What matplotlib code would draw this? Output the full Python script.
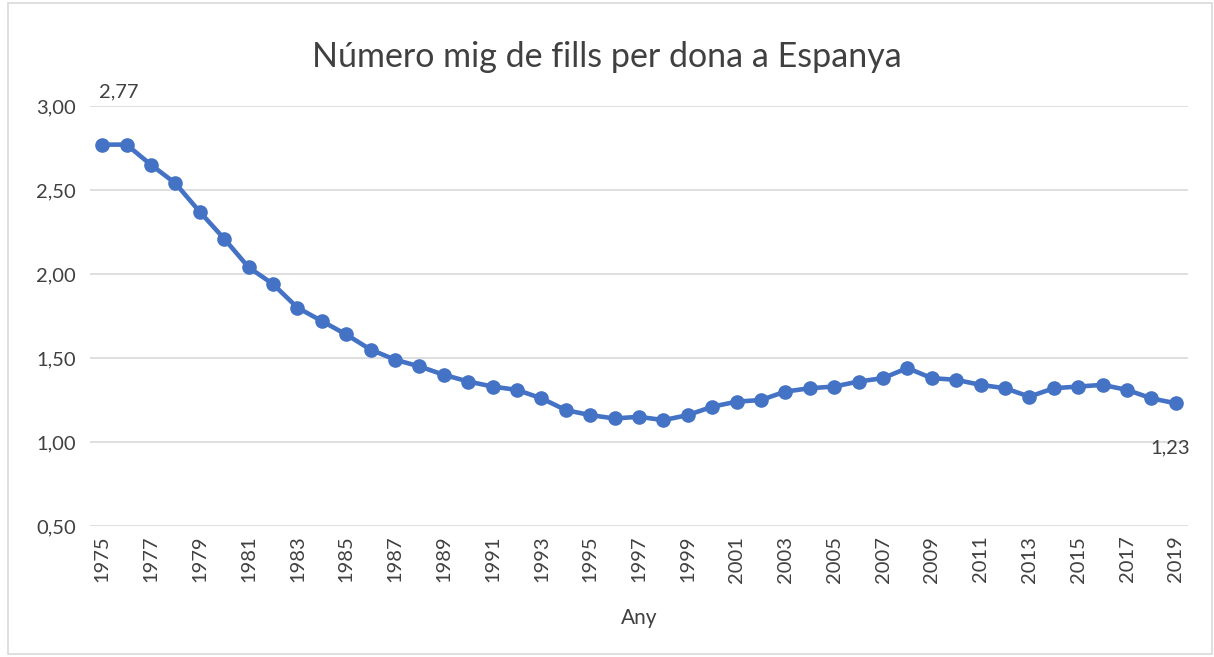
import matplotlib.pyplot as plt
from matplotlib.patches import Rectangle
from matplotlib.ticker import FuncFormatter, MultipleLocator

anys = list(range(1975, 2020))
fills = [2.77, 2.77, 2.65, 2.54, 2.37, 2.21, 2.04, 1.94, 1.80, 1.72,
         1.64, 1.55, 1.49, 1.45, 1.40, 1.36, 1.33, 1.31, 1.26, 1.19,
         1.16, 1.14, 1.15, 1.13, 1.16, 1.21, 1.24, 1.25, 1.30, 1.32,
         1.33, 1.36, 1.38, 1.44, 1.38, 1.37, 1.34, 1.32, 1.27, 1.32,
         1.33, 1.34, 1.31, 1.26, 1.23]

plt.rcParams['font.family'] = ['Lato', 'DejaVu Sans']
text_color = '#404040'
blue = '#4472C4'

fig = plt.figure(figsize=(12.14, 6.57), dpi=100)
ax = fig.add_axes([0.0741, 0.1994, 0.9045, 0.6393])

ax.plot(anys, fills, color=blue, linewidth=3.3, marker='o', markersize=9.5)

ax.set_xlim(1974.5, 2019.5)
ax.set_ylim(0.5, 3.0)
ax.yaxis.set_major_locator(MultipleLocator(0.5))
ax.yaxis.set_major_formatter(FuncFormatter(lambda v, p: f'{v:.2f}'.replace('.', ',')))
ax.set_xticks(anys[::2])
ax.set_xticklabels([str(a) for a in anys[::2]], rotation=90)
ax.tick_params(axis='both', length=0, labelsize=14.5, colors=text_color)
ax.tick_params(axis='x', pad=7)
ax.tick_params(axis='y', pad=10)
ax.grid(axis='y', color='#d9d9d9', linewidth=1.2)
ax.set_axisbelow(True)
for s in ax.spines.values():
    s.set_visible(False)

ax.annotate(f'{fills[0]:.2f}'.replace('.', ','), (anys[0], fills[0]), xytext=(-2, 32),
            textcoords='offset points', fontsize=14.5, color=text_color, ha='left', va='bottom')
ax.annotate(f'{fills[-1]:.2f}'.replace('.', ','), (anys[-1], fills[-1]), xytext=(10, -26),
            textcoords='offset points', fontsize=14.5, color=text_color, ha='right', va='top')

ax.set_xlabel('Any', fontsize=15, color=text_color, labelpad=18)
fig.suptitle('Número mig de fills per dona a Espanya', fontsize=24.5, color=text_color, y=0.938)

fig.patches.append(Rectangle((0.007, 0.005), 0.991, 0.99, transform=fig.transFigure,
                             fill=False, edgecolor='#d9d9d9', linewidth=1.2))

fig.savefig('out.png', dpi=100)
